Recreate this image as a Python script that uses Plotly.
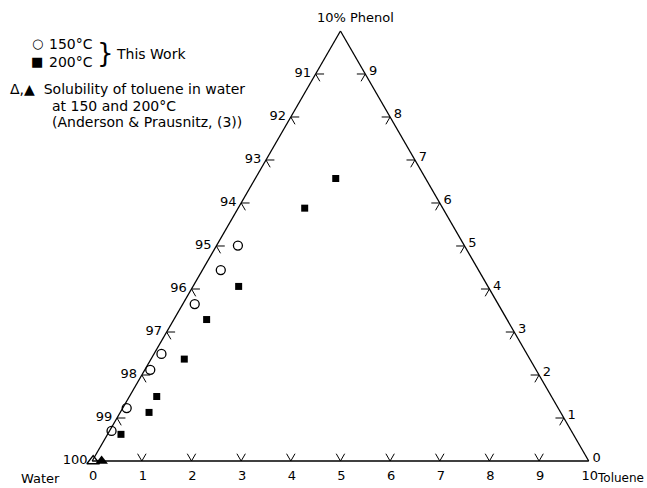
import plotly.graph_objects as go

# ---- data (wt %) ----
phenol_150 = [5.01, 4.44, 3.65, 2.49, 2.12, 1.23, 0.70]
toluene_150 = [0.43, 0.37, 0.24, 0.15, 0.11, 0.08, 0.04]

phenol_200 = [6.57, 5.88, 4.06, 3.29, 2.37, 1.50, 1.13, 0.62]
toluene_200 = [1.62, 1.34, 0.92, 0.66, 0.67, 0.55, 0.58, 0.27]

phenol_sol = [0.0, 0.0]
toluene_sol = [0.02, 0.19]

left_ticks = [100, 99, 98, 97, 96, 95, 94, 93, 92, 91]   # water
bottom_ticks = [0, 1, 2, 3, 4, 5, 6, 7, 8, 9, 10]        # toluene
right_ticks = [0, 1, 2, 3, 4, 5, 6, 7, 8, 9]             # phenol

FONT = "DejaVu Sans"


def water(p, t):
    return [100 - a - c for a, c in zip(p, t)]


fig = go.Figure()

# tick marks: short stubs along the grid directions into the interior
d = 0.17
ta, tb, tc = [], [], []
for w in left_ticks[1:]:
    p = 100 - w
    for (a, b, c) in [(p, w - d, d), (p, w, 0), (p - d, w, d)]:
        ta.append(a); tb.append(b); tc.append(c)
    ta.append(None); tb.append(None); tc.append(None)
for t in bottom_ticks[1:-1]:
    for (a, b, c) in [(d, 100 - t - d, t), (0, 100 - t, t), (d, 100 - t, t - d)]:
        ta.append(a); tb.append(b); tc.append(c)
    ta.append(None); tb.append(None); tc.append(None)
for p in right_ticks[1:]:
    for (a, b, c) in [(p, 90 + d, 10 - p - d), (p, 90, 10 - p), (p - d, 90 + d, 10 - p)]:
        ta.append(a); tb.append(b); tc.append(c)
    ta.append(None); tb.append(None); tc.append(None)

fig.add_trace(go.Scatterternary(a=ta, b=tb, c=tc, mode="lines",
                                line=dict(color="black", width=1),
                                hoverinfo="skip", showlegend=False))

fig.add_trace(go.Scatterternary(
    a=phenol_150, b=water(phenol_150, toluene_150), c=toluene_150,
    mode="markers", name="150°C", cliponaxis=False,
    marker=dict(symbol="circle-open", size=9, color="black", line=dict(width=1.3)),
    showlegend=False))
fig.add_trace(go.Scatterternary(
    a=phenol_200, b=water(phenol_200, toluene_200), c=toluene_200,
    mode="markers", name="200°C", cliponaxis=False,
    marker=dict(symbol="square", size=7, color="black"),
    showlegend=False))
fig.add_trace(go.Scatterternary(
    a=phenol_sol[:1], b=water(phenol_sol[:1], toluene_sol[:1]), c=toluene_sol[:1],
    mode="markers", name="150°C (Anderson & Prausnitz)", cliponaxis=False,
    marker=dict(symbol="triangle-up-open", size=11, color="black", line=dict(width=1.3)),
    showlegend=False))
fig.add_trace(go.Scatterternary(
    a=phenol_sol[1:], b=water(phenol_sol[1:], toluene_sol[1:]), c=toluene_sol[1:],
    mode="markers", name="200°C (Anderson & Prausnitz)", cliponaxis=False,
    marker=dict(symbol="triangle-up", size=11, color="black"),
    showlegend=False))

axis_common = dict(showgrid=False, linecolor="black", linewidth=1.3,
                   ticks="outside", ticklen=2, tickcolor="rgba(0,0,0,0)",
                   tickfont=dict(family=FONT, size=13, color="black"),
                   tickmode="array")

fig.update_layout(
    width=647, height=488,
    margin=dict(l=0, r=0, t=0, b=0),
    paper_bgcolor="white",
    font=dict(family=FONT, size=13, color="black"),
    ternary=dict(
        sum=100,
        bgcolor="white",
        domain=dict(x=[0.1244, 0.928], y=[0.0553, 0.9365]),
        aaxis=dict(axis_common, min=0, title=dict(text=""),
                   tickvals=[100 - w for w in left_ticks],
                   ticktext=[str(w) for w in left_ticks]),
        baxis=dict(axis_common, min=90, title=dict(text=""),
                   tickvals=[100 - t for t in bottom_ticks],
                   ticktext=[str(t) for t in bottom_ticks]),
        caxis=dict(axis_common, min=0, title=dict(text=""),
                   tickvals=[10 - p for p in right_ticks],
                   ticktext=[str(p) for p in right_ticks]),
    ),
)

ann = [
    ("10% Phenol", 355, 17, "center", "middle", 13),
    ("Water", 40, 478, "center", "middle", 13),
    ("Toluene", 646, 487, "right", "bottom", 12),
    ("○", 37, 44, "center", "middle", 13),
    ("■", 37, 62, "center", "middle", 13),
    ("150°C", 47, 44, "left", "middle", 14),
    ("200°C", 47, 62, "left", "middle", 14),
    ("This Work", 114, 54, "left", "middle", 14),
    ("Δ,▲  Solubility of toluene in water", 8, 89, "left", "middle", 14),
    ("at 150 and 200°C", 50, 106, "left", "middle", 14),
    ("(Anderson & Prausnitz, (3))", 50, 122, "left", "middle", 14),
]
for text, x, y, xa, ya, size in ann:
    fig.add_annotation(text=text, x=x / 647, y=1 - y / 488, xref="paper", yref="paper",
                       xanchor=xa, yanchor=ya, showarrow=False,
                       font=dict(family=FONT, size=size, color="black"))
fig.add_annotation(text="}", x=105 / 647, y=1 - 53 / 488, xref="paper", yref="paper",
                   xanchor="center", yanchor="middle", showarrow=False,
                   font=dict(family=FONT, size=26, color="black"))

fig.write_html("out.html")
